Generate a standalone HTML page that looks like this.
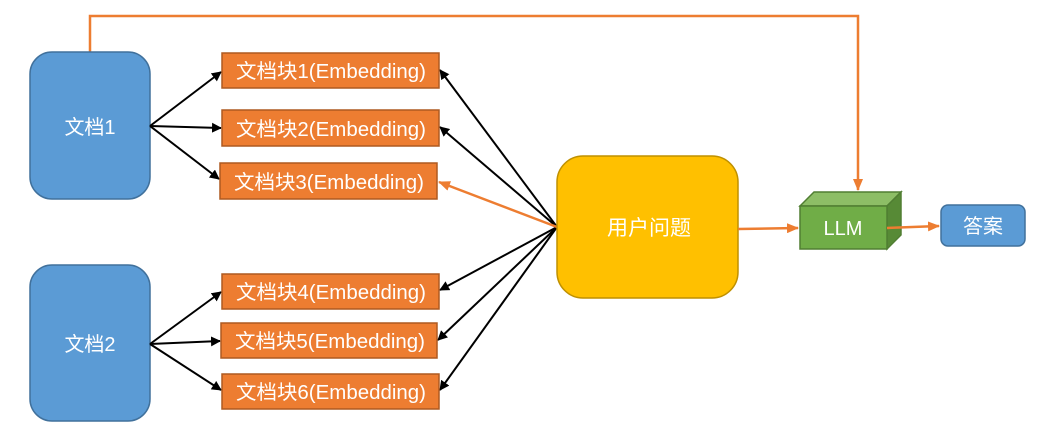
<!DOCTYPE html>
<html><head><meta charset="utf-8"><style>
body{margin:0;background:#fff;}
svg text{font-family:"Liberation Sans","Noto Sans CJK SC",sans-serif;fill:#fff;}
</style></head><body>
<svg width="1041" height="432" viewBox="0 0 1041 432" xmlns="http://www.w3.org/2000/svg">
<defs>
<marker id="ab" markerWidth="10" markerHeight="10" refX="9" refY="5" orient="auto" markerUnits="userSpaceOnUse"><path d="M0,0 L10,5 L0,10 z" fill="#000"/></marker>
<marker id="ao" markerWidth="12" markerHeight="10" refX="11" refY="5" orient="auto" markerUnits="userSpaceOnUse"><path d="M0,0 L12,5 L0,10 z" fill="#ED7D31"/></marker>
</defs>
<polyline points="90,52 90,16 858,16 858,190" fill="none" stroke="#ED7D31" stroke-width="2.5" marker-end="url(#ao)"/>
<rect x="30" y="52" width="120" height="147" rx="22" fill="#5B9BD5" stroke="#41719C" stroke-width="1.5"/>
<text x="90" y="134" font-size="20" text-anchor="middle">文档1</text>
<rect x="30" y="265" width="120" height="156" rx="22" fill="#5B9BD5" stroke="#41719C" stroke-width="1.5"/>
<text x="90" y="351" font-size="20" text-anchor="middle">文档2</text>
<g stroke="#000" stroke-width="2" fill="none">
<line x1="150" y1="126" x2="221" y2="72" marker-end="url(#ab)"/>
<line x1="150" y1="126" x2="221" y2="128" marker-end="url(#ab)"/>
<line x1="150" y1="126" x2="219" y2="179" marker-end="url(#ab)"/>
<line x1="150" y1="344" x2="221" y2="292" marker-end="url(#ab)"/>
<line x1="150" y1="344" x2="220" y2="341" marker-end="url(#ab)"/>
<line x1="150" y1="344" x2="221" y2="390" marker-end="url(#ab)"/>
<line x1="557" y1="227" x2="440" y2="70" marker-end="url(#ab)"/>
<line x1="557" y1="227" x2="440" y2="127" marker-end="url(#ab)"/>
<line x1="557" y1="227" x2="440" y2="290" marker-end="url(#ab)"/>
<line x1="557" y1="227" x2="438" y2="340" marker-end="url(#ab)"/>
<line x1="557" y1="227" x2="440" y2="390" marker-end="url(#ab)"/>
</g>
<line x1="557" y1="227" x2="439" y2="182" stroke="#ED7D31" stroke-width="2.5" marker-end="url(#ao)"/>
<g fill="#ED7D31" stroke="#AE5A21" stroke-width="1.5">
<rect x="222" y="53" width="217" height="35"/>
<rect x="222" y="110" width="217" height="36"/>
<rect x="220" y="163" width="217" height="36"/>
<rect x="222" y="274" width="217" height="35"/>
<rect x="221" y="323" width="216" height="35"/>
<rect x="222" y="374" width="217" height="35"/>
</g>
<g font-size="20" text-anchor="middle">
<text x="331" y="78" textLength="190" lengthAdjust="spacingAndGlyphs">文档块1(Embedding)</text>
<text x="331" y="136" textLength="190" lengthAdjust="spacingAndGlyphs">文档块2(Embedding)</text>
<text x="329" y="189" textLength="190" lengthAdjust="spacingAndGlyphs">文档块3(Embedding)</text>
<text x="331" y="299" textLength="190" lengthAdjust="spacingAndGlyphs">文档块4(Embedding)</text>
<text x="330" y="348" textLength="190" lengthAdjust="spacingAndGlyphs">文档块5(Embedding)</text>
<text x="331" y="399" textLength="190" lengthAdjust="spacingAndGlyphs">文档块6(Embedding)</text>
</g>
<rect x="557" y="156" width="181" height="142" rx="26" fill="#FFC000" stroke="#BF9000" stroke-width="1.5"/>
<text x="649" y="235" font-size="21" text-anchor="middle">用户问题</text>
<line x1="738" y1="229" x2="798" y2="228" stroke="#ED7D31" stroke-width="2.5" marker-end="url(#ao)"/>
<polygon points="800,206 814,192 901,192 887,206" fill="#8DBE66" stroke="#507E32" stroke-width="1.5"/>
<polygon points="887,206 901,192 901,235 887,249" fill="#578A36" stroke="#507E32" stroke-width="1.5"/>
<rect x="800" y="206" width="87" height="43" fill="#70AD47" stroke="#507E32" stroke-width="1.5"/>
<text x="843" y="235" font-size="20" text-anchor="middle">LLM</text>
<line x1="887" y1="228" x2="939" y2="226" stroke="#ED7D31" stroke-width="2.5" marker-end="url(#ao)"/>
<rect x="941" y="205" width="84" height="41" rx="7" fill="#5B9BD5" stroke="#41719C" stroke-width="1.5"/>
<text x="983" y="233" font-size="20" text-anchor="middle">答案</text>
</svg>
</body></html>
